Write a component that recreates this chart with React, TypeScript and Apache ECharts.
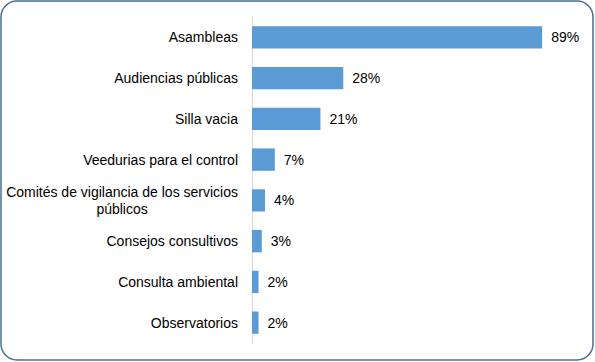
import React, { useEffect, useRef } from "react";
import * as echarts from "echarts";

const categories = [
  "Asambleas",
  "Audiencias públicas",
  "Silla vacia",
  "Veedurias para el control",
  "Comités de vigilancia de los servicios públicos",
  "Consejos consultivos",
  "Consulta ambiental",
  "Observatorios",
];
const values = [89, 28, 21, 7, 4, 3, 2, 2];

export default function App() {
  const ref = useRef<HTMLDivElement>(null);
  useEffect(() => {
    document.body.style.margin = "0";
    const chart = echarts.init(ref.current!, null, { renderer: "svg" });
    const font = "'Liberation Sans', Arial, sans-serif";
    chart.setOption({
      animation: false,
      backgroundColor: "#ffffff",
      graphic: [
        {
          type: "rect",
          shape: { x: 1, y: 1, width: 592, height: 359, r: 16 },
          style: { fill: "none", stroke: "#4A6E94", lineWidth: 1.5 },
          silent: true,
          z: 10,
        },
      ],
      grid: { left: 252, right: 17, top: 17, bottom: 19, containLabel: false },
      xAxis: {
        type: "value",
        min: 0,
        max: 100,
        show: false,
      },
      yAxis: {
        type: "category",
        data: categories,
        inverse: true,
        axisLine: { show: true, lineStyle: { color: "#D9D9D9", width: 1 } },
        axisTick: { show: false },
        axisLabel: {
          margin: 14,
          color: "#000000",
          fontFamily: font,
          fontSize: 14,
          lineHeight: 17,
          formatter: (v: string) => {
            if (v.startsWith("Comités")) {
              return "{a|Comités de vigilancia de los servicios}\n{c|públicos}";
            }
            return v;
          },
          rich: {
            a: { fontFamily: font, fontSize: 14, color: "#000", lineHeight: 17 },
            c: {
              fontFamily: font,
              fontSize: 14,
              color: "#000",
              lineHeight: 17,
              width: 228,
              align: "center",
            },
          },
        },
      },
      series: [
        {
          type: "bar",
          data: values,
          barCategoryGap: "45%",
          itemStyle: { color: "#5B9BD5" },
          label: {
            show: true,
            position: "right",
            distance: 9,
            formatter: "{c}%",
            color: "#000000",
            fontFamily: font,
            fontSize: 14,
          },
        },
      ],
    });
    return () => chart.dispose();
  }, []);
  return <div ref={ref} style={{ width: 595, height: 362 }} />;
}
